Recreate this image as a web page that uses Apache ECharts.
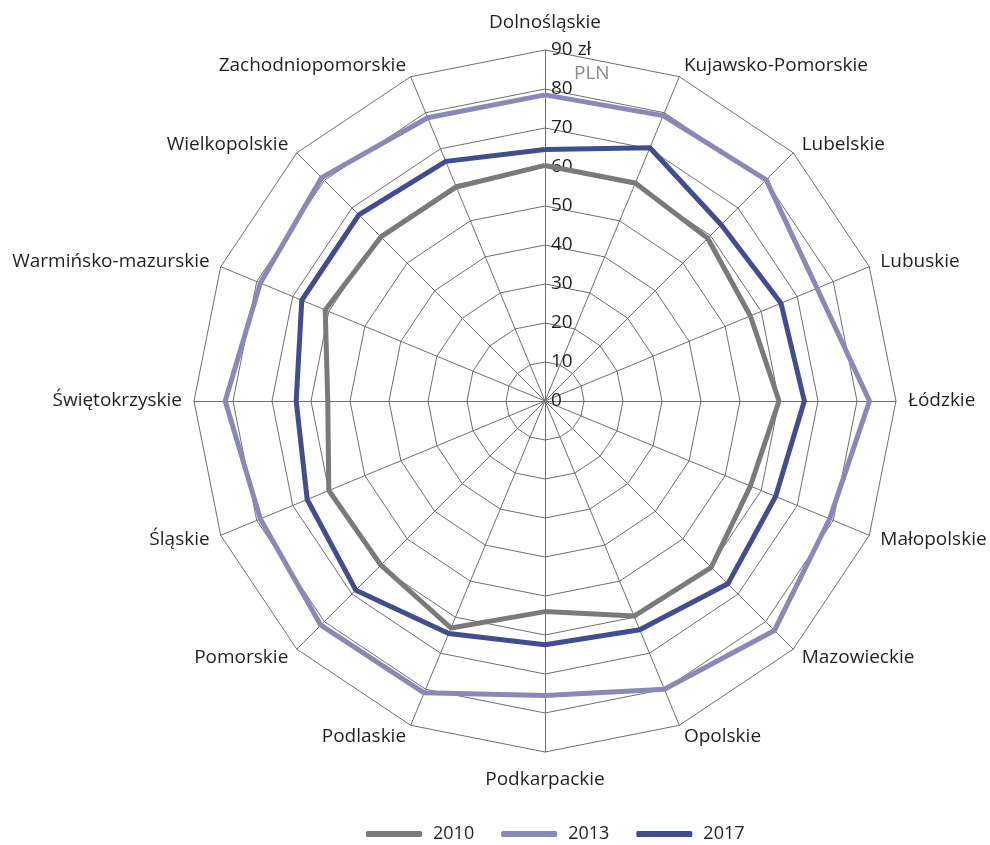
<!DOCTYPE html>
<html>
<head>
<meta charset="utf-8">
<script src="https://cdn.jsdelivr.net/npm/echarts@6/dist/echarts.min.js"></script>
<style>
html,body{margin:0;padding:0;background:#fff;}
#main{width:990px;height:845px;}
</style>
</head>
<body>
<div id="main"></div>
<script>
// regions clockwise from the top
var regions = ['Dolnośląskie','Kujawsko-Pomorskie','Lubelskie','Lubuskie','Łódzkie','Małopolskie',
  'Mazowieckie','Opolskie','Podkarpackie','Podlaskie','Pomorskie','Śląskie','Świętokrzyskie',
  'Warmińsko-mazurskie','Wielkopolskie','Zachodniopomorskie'];
var years = ['2010','2013','2017'];
var v2010 = [60.4,60.5,59,57,60,57,60.3,59.7,54,63,59.5,60,55.7,61,59.5,59.4];
var v2013 = [78.5,79.2,80.2,75.5,83.2,79,83.2,80,75.5,81,81.3,79,82,79,81,78.6];
var v2017 = [64.5,70.3,63.9,65.5,66.5,64,66.3,63.5,62.5,64.5,68.6,66,63.8,67.5,67.5,66.5];
var colors = ['#777b7d','#8a88b7','#414d8e'];
var maxVal = 90;

var font = '"Open Sans", "Noto Sans", sans-serif';

// echarts lays indicators counter-clockwise, so walk the list backwards after the first
var order = [0];
for (var i = regions.length - 1; i > 0; i--) order.push(i);

function pick(arr){
  return order.map(function(i){ return arr[i]; });
}

var indicators = order.map(function(i, k){
  var ind = {name: regions[i], min: 0, max: maxVal};
  // top and bottom names sit a bit further out
  if (i === 0 || i === 8) ind.nameGap = 18;
  if (k === 0) {
    // scale labels only on the top axis, right of the line
    ind.axisLabel = {
      show: true,
      color: '#231f20',
      fontSize: 19,
      fontFamily: font,
      margin: -6,
      align: 'left',
      verticalAlign: 'middle',
      formatter: function(v){ return v === maxVal ? v + ' zł' : v; }
    };
  }
  return ind;
});

var myChart = echarts.init(document.getElementById('main'));
myChart.setOption({
  animation: false,
  color: colors,
  legend: {
    top: 820,
    left: 361,
    icon: 'roundRect',
    itemWidth: 56,
    itemHeight: 6,
    itemGap: 27,
    textStyle: {fontSize: 18, color: '#231f20', fontFamily: font, padding: [0, 0, 0, 6]},
    data: years
  },
  radar: {
    center: [545, 401],
    radius: 351,
    startAngle: 90,
    splitNumber: 9,
    shape: 'polygon',
    axisName: {color: '#231f20', fontSize: 19, fontFamily: font},
    nameGap: 12,
    axisLine: {lineStyle: {color: '#6f6f6f', width: 1}},
    splitLine: {lineStyle: {color: '#6f6f6f', width: 1}},
    splitArea: {show: false},
    axisLabel: {show: false},
    indicator: indicators
  },
  graphic: [{
    type: 'text',
    left: 574,
    top: 64,
    style: {text: 'PLN', fill: '#8a8a8a', fontSize: 19, fontFamily: font}
  }],
  series: [{
    type: 'radar',
    symbol: 'none',
    lineStyle: {width: 5},
    data: [
      {name: years[0], value: pick(v2010), lineStyle: {color: colors[0], width: 5}, itemStyle: {color: colors[0]}},
      {name: years[1], value: pick(v2013), lineStyle: {color: colors[1], width: 5}, itemStyle: {color: colors[1]}},
      {name: years[2], value: pick(v2017), lineStyle: {color: colors[2], width: 5}, itemStyle: {color: colors[2]}}
    ]
  }]
});
</script>
</body>
</html>
